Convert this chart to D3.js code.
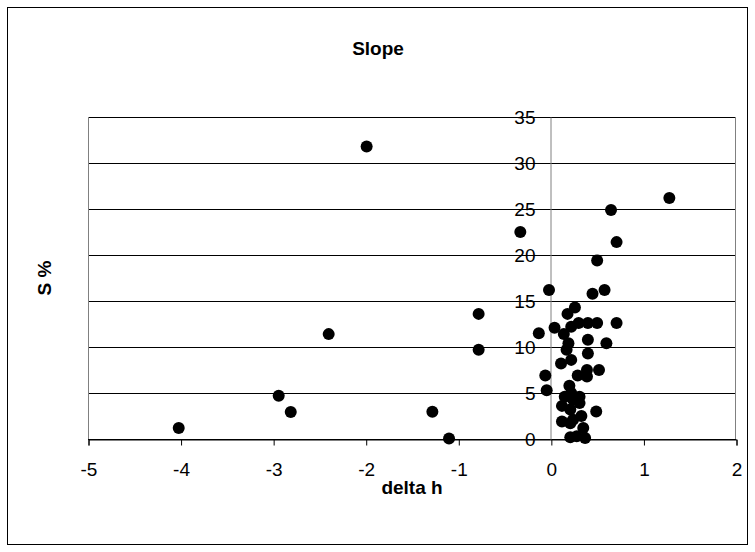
<!DOCTYPE html>
<html>
<head>
<meta charset="utf-8">
<script src="https://cdn.jsdelivr.net/npm/d3@7"></script>
<style>
  html, body { margin: 0; padding: 0; background: #fff; }
  svg { display: block; font-family: "Liberation Sans", Arial, sans-serif; }
</style>
</head>
<body>
<svg id="chart" width="755" height="552"></svg>
<script>
// Change in height (delta h) against slope (S %)
const deltaH = [
  -4.02, -2.94, -2.81, -2.40, -1.99, -1.28, -1.10, -0.78, -0.78, -0.33,
  -0.13, -0.06, -0.045, -0.02,
  1.28, 0.65, 0.71, 0.50, 0.58, 0.45, 0.26, 0.18, 0.04, 0.14,
  0.22, 0.30, 0.40, 0.50, 0.71, 0.19, 0.17, 0.40, 0.60, 0.40,
  0.22, 0.11, 0.29, 0.39, 0.52, 0.39, 0.20, 0.22, 0.15, 0.31,
  0.24, 0.12, 0.31, 0.21, 0.49, 0.12, 0.21, 0.24, 0.33, 0.35,
  0.21, 0.28, 0.37
];
const slopePct = [
  1.2, 4.7, 2.93, 11.4, 31.8, 2.95, 0.05, 13.6, 9.7, 22.5,
  11.5, 6.9, 5.3, 16.2,
  26.2, 24.9, 21.4, 19.4, 16.2, 15.8, 14.3, 13.6, 12.1, 11.4,
  12.2, 12.6, 12.6, 12.6, 12.6, 10.4, 9.7, 10.8, 10.4, 9.3,
  8.6, 8.2, 6.9, 7.5, 7.5, 6.8, 5.8, 5.0, 4.6, 4.6,
  4.3, 3.6, 3.9, 3.2, 3.0, 1.9, 1.7, 2.1, 2.5, 1.2,
  0.2, 0.3, 0.1
];
const xTicks = [-5, -4, -3, -2, -1, 0, 1, 2];
const yTicks = [0, 5, 10, 15, 20, 25, 30, 35];
const titleText = "Slope";
const xLabel = "delta h";
const yLabel = "S %";

const svg = d3.select("#chart");
const plot = { left: 88, right: 736, top: 117, bottom: 439 };
const FONT = "Liberation Sans, Arial, sans-serif";

// outer chart frame
svg.append("rect")
  .attr("x", 7.5).attr("y", 7.5)
  .attr("width", 740).attr("height", 537)
  .attr("fill", "#fff").attr("stroke", "#000").attr("stroke-width", 1);

const x = d3.scaleLinear().domain([-5, 2]).range([plot.left, plot.right]);
const y = d3.scaleLinear().domain([0, 35]).range([plot.bottom, plot.top]);

// horizontal gridlines
svg.append("g")
  .selectAll("line")
  .data(yTicks)
  .join("line")
  .attr("x1", plot.left).attr("x2", plot.right)
  .attr("y1", d => Math.round(y(d)) + 0.5).attr("y2", d => Math.round(y(d)) + 0.5)
  .attr("stroke", "#000").attr("stroke-width", 1);

// plot-area side borders
svg.append("line")
  .attr("x1", plot.left + 0.5).attr("x2", plot.left + 0.5)
  .attr("y1", plot.top).attr("y2", plot.bottom)
  .attr("stroke", "#808080");
svg.append("line")
  .attr("x1", plot.right - 0.5).attr("x2", plot.right - 0.5)
  .attr("y1", plot.top).attr("y2", plot.bottom)
  .attr("stroke", "#808080");

// x axis along S = 0
const xAxis = d3.axisBottom(x)
  .tickValues(xTicks)
  .tickFormat(d => String(d))
  .tickSize(6)
  .tickPadding(17);
const gx = svg.append("g")
  .attr("transform", `translate(0.5,${Math.round(y(0)) + 0.5})`)
  .call(xAxis);
gx.select(".domain").attr("stroke", "#000");
gx.selectAll(".tick line").attr("stroke", "#000");
gx.selectAll(".tick text")
  .attr("fill", "#000")
  .attr("font-size", 19)
  .attr("font-family", FONT);

// y axis crossing at delta h = 0
const yAxis = d3.axisLeft(y)
  .tickValues(yTicks)
  .tickFormat(d => String(d))
  .tickSize(0)
  .tickPadding(15);
const gy = svg.append("g")
  .attr("transform", `translate(${Math.round(x(0)) - 0.5},0)`)
  .call(yAxis);
gy.select(".domain").attr("stroke", "#808080");
gy.selectAll(".tick text")
  .attr("fill", "#000")
  .attr("font-size", 19)
  .attr("font-family", FONT);

// data points
const pts = deltaH.map((d, i) => ({ dx: d, s: slopePct[i] }));
svg.append("g")
  .selectAll("circle")
  .data(pts)
  .join("circle")
  .attr("cx", d => x(d.dx))
  .attr("cy", d => y(d.s))
  .attr("r", 6)
  .attr("fill", "#000");

// titles
svg.append("text")
  .attr("x", 378).attr("y", 55)
  .attr("text-anchor", "middle")
  .attr("font-size", 19).attr("font-weight", "bold")
  .text(titleText);

svg.append("text")
  .attr("x", (plot.left + plot.right) / 2).attr("y", 494)
  .attr("text-anchor", "middle")
  .attr("font-size", 19).attr("font-weight", "bold")
  .text(xLabel);

svg.append("text")
  .attr("transform", `translate(51,${(plot.top + plot.bottom) / 2}) rotate(-90)`)
  .attr("text-anchor", "middle")
  .attr("font-size", 19).attr("font-weight", "bold")
  .text(yLabel);
</script>
</body>
</html>
